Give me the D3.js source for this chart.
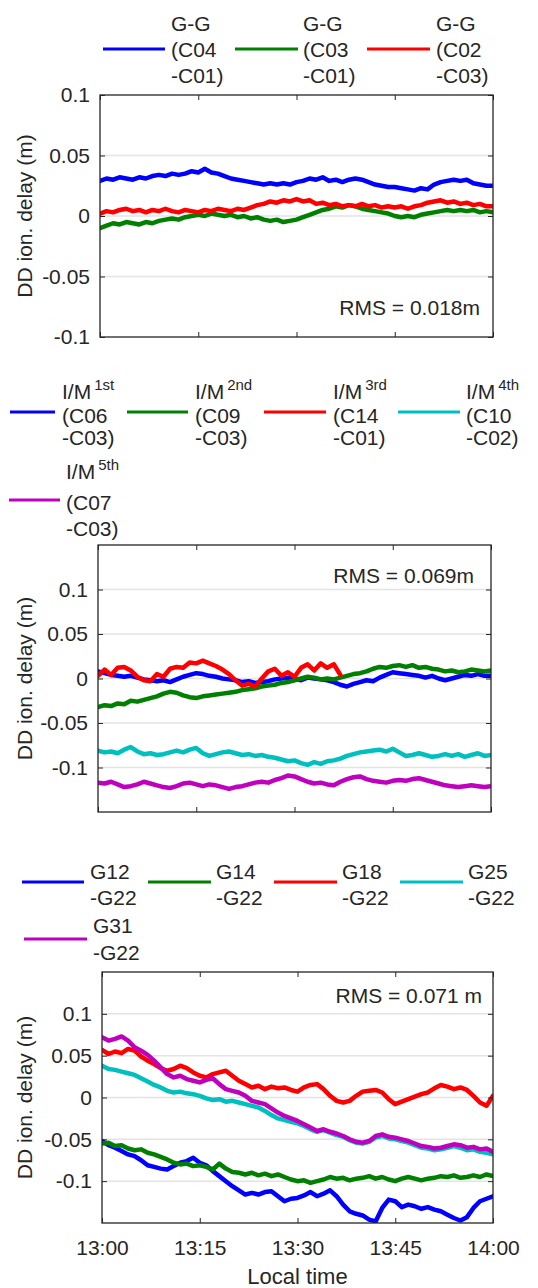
<!DOCTYPE html>
<html>
<head>
<meta charset="utf-8">
<script src="https://cdn.jsdelivr.net/npm/d3@7"></script>
<style>
  html, body { margin: 0; padding: 0; background: #fff; }
  svg { display: block; font-family: "Liberation Sans", Arial, sans-serif; }
</style>
</head>
<body>
<div id="chart"></div>
<script>
// sample times, minutes after 13:00
const minutes = d3.range(0, 61);
const xTicks = [0, 15, 30, 45, 60];
const xTickLabels = ["13:00", "13:15", "13:30", "13:45", "14:00"];
const yTicks = [-0.1, -0.05, 0, 0.05, 0.1];

// panel 1: BDS GEO-GEO
const geoNames = [["G-G", "(C04", "-C01)"], ["G-G", "(C03", "-C01)"], ["G-G", "(C02", "-C03)"]];
const geoRms = "RMS = 0.018m";
const c04c01 = [
  0.029,0.031,0.030,0.032,0.031,0.030,0.032,0.031,0.033,0.034,
  0.033,0.035,0.034,0.035,0.037,0.036,0.039,0.036,0.035,0.033,
  0.031,0.030,0.029,0.028,0.027,0.026,0.027,0.026,0.027,0.026,
  0.028,0.029,0.031,0.030,0.032,0.029,0.030,0.028,0.030,0.031,
  0.030,0.028,0.026,0.025,0.024,0.024,0.023,0.022,0.021,0.023,
  0.022,0.026,0.028,0.029,0.030,0.029,0.030,0.027,0.026,0.025,
  0.025];
const c03c01 = [
  -0.010,-0.008,-0.006,-0.007,-0.005,-0.006,-0.007,-0.005,-0.006,-0.004,
  -0.003,-0.002,-0.003,-0.001,0.000,0.001,0.000,0.002,0.001,0.000,
  0.001,-0.001,0.000,-0.002,-0.001,-0.003,-0.004,-0.003,-0.005,-0.004,
  -0.003,-0.001,0.001,0.003,0.005,0.006,0.008,0.007,0.009,0.008,
  0.006,0.005,0.004,0.003,0.002,0.000,-0.001,0.000,-0.001,0.001,
  0.002,0.003,0.004,0.005,0.004,0.005,0.004,0.005,0.003,0.004,
  0.003];
const c02c03 = [
  0.002,0.004,0.003,0.005,0.006,0.004,0.005,0.003,0.005,0.004,
  0.006,0.004,0.003,0.005,0.004,0.003,0.005,0.004,0.006,0.005,
  0.004,0.006,0.005,0.007,0.009,0.010,0.012,0.011,0.013,0.012,
  0.014,0.012,0.013,0.010,0.011,0.009,0.010,0.008,0.009,0.008,
  0.010,0.008,0.009,0.007,0.008,0.007,0.008,0.006,0.008,0.009,
  0.011,0.012,0.013,0.011,0.012,0.010,0.011,0.009,0.010,0.008,
  0.008];

// panel 2: BDS IGSO/MEO
const imNames = [["I/M^1st", "(C06", "-C03)"], ["I/M^2nd", "(C09", "-C03)"], ["I/M^3rd", "(C14", "-C01)"],
                 ["I/M^4th", "(C10", "-C02)"], ["I/M^5th", "(C07", "-C03)"]];
const imRms = "RMS = 0.069m";
const c06c03 = [
  0.008,0.006,0.004,0.003,0.002,0.003,0.001,-0.001,-0.002,-0.003,
  -0.002,-0.004,-0.001,0.002,0.004,0.006,0.005,0.003,0.002,0.000,
  -0.001,-0.002,-0.004,-0.003,-0.005,-0.004,-0.003,-0.001,0.000,0.001,
  0.000,-0.002,0.001,0.000,-0.001,-0.002,-0.004,-0.007,-0.009,-0.006,
  -0.004,-0.002,-0.003,0.001,0.004,0.007,0.006,0.005,0.004,0.003,
  0.001,0.003,0.000,-0.002,0.000,0.002,0.004,0.003,0.005,0.003,
  0.003];
const c09c03 = [
  -0.032,-0.030,-0.031,-0.028,-0.029,-0.025,-0.026,-0.024,-0.022,-0.020,
  -0.017,-0.015,-0.016,-0.019,-0.021,-0.022,-0.020,-0.019,-0.018,-0.017,
  -0.016,-0.015,-0.013,-0.012,-0.011,-0.009,-0.008,-0.007,-0.005,-0.004,
  -0.002,0.000,0.002,0.001,-0.001,0.000,-0.001,0.001,0.003,0.005,
  0.006,0.008,0.011,0.013,0.012,0.014,0.015,0.013,0.015,0.012,
  0.013,0.011,0.010,0.008,0.009,0.007,0.008,0.010,0.009,0.008,
  0.009];
const c14c01 = [
  0.003,0.010,0.004,0.012,0.013,0.009,0.002,-0.002,-0.003,0.005,
  0.002,0.011,0.013,0.012,0.018,0.017,0.020,0.017,0.014,0.010,
  0.005,-0.002,-0.008,-0.006,-0.009,0.000,0.008,0.011,0.003,0.007,
  0.002,0.012,0.016,0.009,0.017,0.012,0.016,0.004];
const c10c02 = [
  -0.081,-0.083,-0.082,-0.084,-0.080,-0.077,-0.082,-0.085,-0.084,-0.086,
  -0.085,-0.083,-0.081,-0.083,-0.080,-0.078,-0.084,-0.087,-0.085,-0.083,
  -0.082,-0.084,-0.086,-0.085,-0.087,-0.086,-0.088,-0.089,-0.091,-0.093,
  -0.092,-0.095,-0.097,-0.094,-0.096,-0.093,-0.092,-0.090,-0.087,-0.085,
  -0.083,-0.082,-0.081,-0.080,-0.082,-0.079,-0.083,-0.087,-0.086,-0.084,
  -0.086,-0.088,-0.087,-0.085,-0.087,-0.085,-0.088,-0.086,-0.084,-0.087,
  -0.086];
const c07c03 = [
  -0.117,-0.118,-0.116,-0.119,-0.122,-0.121,-0.119,-0.116,-0.118,-0.120,
  -0.122,-0.123,-0.121,-0.118,-0.117,-0.119,-0.121,-0.119,-0.120,-0.122,
  -0.124,-0.122,-0.121,-0.119,-0.117,-0.116,-0.117,-0.114,-0.112,-0.109,
  -0.110,-0.113,-0.116,-0.118,-0.117,-0.119,-0.120,-0.116,-0.113,-0.111,
  -0.110,-0.113,-0.115,-0.116,-0.117,-0.115,-0.114,-0.115,-0.113,-0.112,
  -0.114,-0.116,-0.118,-0.120,-0.121,-0.122,-0.121,-0.120,-0.121,-0.122,
  -0.121];

// panel 3: GPS
const gpsNames = [["G12", "-G22"], ["G14", "-G22"], ["G18", "-G22"], ["G25", "-G22"], ["G31", "-G22"]];
const gpsRms = "RMS = 0.071 m";
const g12g22 = [
  -0.052,-0.057,-0.060,-0.064,-0.068,-0.070,-0.075,-0.081,-0.083,-0.085,
  -0.086,-0.082,-0.078,-0.076,-0.072,-0.078,-0.081,-0.088,-0.094,-0.100,
  -0.106,-0.111,-0.116,-0.114,-0.116,-0.113,-0.112,-0.118,-0.124,-0.121,
  -0.120,-0.117,-0.113,-0.118,-0.115,-0.111,-0.118,-0.128,-0.136,-0.139,
  -0.141,-0.146,-0.148,-0.132,-0.122,-0.124,-0.131,-0.128,-0.130,-0.133,
  -0.131,-0.134,-0.136,-0.140,-0.144,-0.147,-0.143,-0.132,-0.124,-0.121,
  -0.118];
const g14g22 = [
  -0.055,-0.054,-0.058,-0.057,-0.061,-0.063,-0.062,-0.066,-0.068,-0.071,
  -0.074,-0.078,-0.080,-0.079,-0.082,-0.081,-0.083,-0.086,-0.079,-0.085,
  -0.089,-0.090,-0.092,-0.090,-0.093,-0.091,-0.094,-0.092,-0.095,-0.098,
  -0.100,-0.099,-0.102,-0.100,-0.098,-0.095,-0.097,-0.096,-0.099,-0.097,
  -0.096,-0.094,-0.097,-0.095,-0.098,-0.100,-0.097,-0.095,-0.097,-0.099,
  -0.097,-0.096,-0.094,-0.095,-0.093,-0.096,-0.095,-0.093,-0.095,-0.092,
  -0.094];
const g18g22 = [
  0.057,0.052,0.055,0.053,0.058,0.056,0.049,0.044,0.040,0.035,
  0.032,0.034,0.038,0.035,0.030,0.026,0.024,0.028,0.030,0.032,
  0.026,0.020,0.016,0.012,0.014,0.010,0.013,0.011,0.012,0.009,
  0.007,0.012,0.015,0.016,0.010,0.002,-0.004,-0.006,-0.004,0.002,
  0.007,0.008,0.009,0.006,-0.002,-0.008,-0.005,-0.002,0.001,0.004,
  0.006,0.011,0.015,0.013,0.010,0.012,0.009,0.002,-0.006,-0.010,
  0.002];
const g25g22 = [
  0.038,0.034,0.033,0.031,0.029,0.027,0.023,0.019,0.015,0.012,
  0.008,0.006,0.007,0.005,0.004,0.002,-0.001,-0.003,-0.002,-0.005,
  -0.004,-0.006,-0.008,-0.010,-0.012,-0.016,-0.021,-0.025,-0.027,-0.029,
  -0.031,-0.034,-0.038,-0.041,-0.039,-0.042,-0.045,-0.047,-0.051,-0.054,
  -0.055,-0.053,-0.048,-0.046,-0.049,-0.050,-0.052,-0.054,-0.057,-0.060,
  -0.061,-0.063,-0.062,-0.060,-0.058,-0.060,-0.063,-0.062,-0.065,-0.066,
  -0.068];
const g31g22 = [
  0.072,0.068,0.070,0.073,0.068,0.060,0.056,0.051,0.044,0.036,
  0.028,0.024,0.026,0.022,0.020,0.018,0.021,0.023,0.016,0.010,
  0.008,0.006,0.002,-0.004,-0.006,-0.008,-0.013,-0.018,-0.022,-0.025,
  -0.028,-0.032,-0.036,-0.040,-0.038,-0.041,-0.043,-0.046,-0.050,-0.053,
  -0.054,-0.052,-0.046,-0.044,-0.047,-0.048,-0.050,-0.052,-0.055,-0.058,
  -0.059,-0.061,-0.060,-0.058,-0.056,-0.057,-0.060,-0.059,-0.062,-0.061,
  -0.065];

const colors = ["#0000ff", "#008000", "#ff0000", "#00bfbf", "#bf00bf"];
const ink = "#262626";

const width = 538, height = 1288;
const svg = d3.select("#chart").append("svg")
    .attr("width", width)
    .attr("height", height);

const panels = [
    {
        id: "p1", left: 100, right: 493, top: 95, bottom: 337, yDomain: [-0.1, 0.1],
        series: [c04c01, c03c01, c02c03], names: geoNames,
        rms: geoRms, rmsX: 480, rmsY: 315, xLabels: false,
        legend: [
            { x1: 103, x2: 165, y: 49, tx: 171, base: [31, 57, 83] },
            { x1: 235, x2: 298, y: 49, tx: 303, base: [31, 57, 83] },
            { x1: 367, x2: 430, y: 49, tx: 436, base: [31, 57, 83] }
        ]
    },
    {
        id: "p2", left: 98, right: 491, top: 545, bottom: 812, yDomain: [-0.15, 0.15],
        series: [c06c03, c09c03, c14c01, c10c02, c07c03], names: imNames,
        rms: imRms, rmsX: 474, rmsY: 583, xLabels: false,
        legend: [
            { x1: 10, x2: 55, y: 412, tx: 62, base: [399, 423, 445] },
            { x1: 127, x2: 188, y: 412, tx: 195, base: [399, 423, 445] },
            { x1: 264, x2: 326, y: 412, tx: 333, base: [399, 423, 445] },
            { x1: 398, x2: 460, y: 412, tx: 466, base: [399, 423, 445] },
            { x1: 9, x2: 60, y: 500, tx: 66, base: [479, 510, 536] }
        ]
    },
    {
        id: "p3", left: 102, right: 493, top: 972, bottom: 1223, yDomain: [-0.15, 0.15],
        series: [g12g22, g14g22, g18g22, g25g22, g31g22], names: gpsNames,
        rms: gpsRms, rmsX: 482, rmsY: 1003, xLabels: true,
        legend: [
            { x1: 22, x2: 84, y: 882, tx: 90, base: [879, 905] },
            { x1: 148, x2: 211, y: 882, tx: 216, base: [879, 905] },
            { x1: 274, x2: 337, y: 882, tx: 342, base: [879, 905] },
            { x1: 400, x2: 463, y: 882, tx: 468, base: [879, 905] },
            { x1: 24, x2: 87, y: 939, tx: 93, base: [933, 960] }
        ]
    }
];

function styleAxis(g, fontSize) {
    g.select(".domain").remove();
    g.selectAll(".tick line").attr("stroke", ink).attr("stroke-width", 1);
    g.selectAll(".tick text").attr("fill", ink).attr("font-size", fontSize).attr("font-family", null);
}

function drawPanel(p) {
    const x = d3.scaleLinear().domain([0, 60]).range([p.left, p.right]);
    const y = d3.scaleLinear().domain(p.yDomain).range([p.bottom, p.top]);
    const g = svg.append("g").attr("class", p.id);

    // grid lines inside the box
    g.append("g").selectAll("line")
        .data(yTicks.filter(t => y(t) > p.top + 2 && y(t) < p.bottom - 2))
        .enter().append("line")
        .attr("x1", p.left).attr("x2", p.right)
        .attr("y1", d => y(d)).attr("y2", d => y(d))
        .attr("stroke", "#e3e3e3")
        .attr("stroke-width", 1.5);

    g.append("clipPath").attr("id", "clip-" + p.id)
        .append("rect")
        .attr("x", p.left).attr("y", p.top)
        .attr("width", p.right - p.left).attr("height", p.bottom - p.top);

    const line = d3.line()
        .x((d, i) => x(minutes[i]))
        .y(d => y(d));

    g.append("g").attr("clip-path", `url(#clip-${p.id})`)
        .selectAll("path")
        .data(p.series)
        .enter().append("path")
        .attr("d", d => line(d))
        .attr("fill", "none")
        .attr("stroke", (d, i) => colors[i])
        .attr("stroke-width", 4.5)
        .attr("stroke-linejoin", "round")
        .attr("stroke-linecap", "round");

    // axes with inward ticks
    const yFmt = d => String(d);
    g.append("g")
        .attr("transform", `translate(${p.left},0)`)
        .call(d3.axisLeft(y).tickValues(yTicks).tickSizeInner(-5).tickSizeOuter(0).tickPadding(10).tickFormat(yFmt))
        .call(a => styleAxis(a, 21));
    g.append("g")
        .attr("transform", `translate(${p.right},0)`)
        .call(d3.axisRight(y).tickValues(yTicks).tickSizeInner(-5).tickSizeOuter(0).tickFormat(""))
        .call(a => styleAxis(a, 21));
    g.append("g")
        .attr("transform", `translate(0,${p.top})`)
        .call(d3.axisTop(x).tickValues(xTicks).tickSizeInner(-5).tickSizeOuter(0).tickFormat(""))
        .call(a => styleAxis(a, 21));
    g.append("g")
        .attr("transform", `translate(0,${p.bottom})`)
        .call(d3.axisBottom(x).tickValues(xTicks).tickSizeInner(-5).tickSizeOuter(0).tickPadding(17)
            .tickFormat((d, i) => p.xLabels ? xTickLabels[i] : ""))
        .call(a => styleAxis(a, 21));

    g.append("rect")
        .attr("x", p.left).attr("y", p.top)
        .attr("width", p.right - p.left).attr("height", p.bottom - p.top)
        .attr("fill", "none")
        .attr("stroke", ink)
        .attr("stroke-width", 1.3);

    g.append("text")
        .attr("transform", `translate(25,${(p.top + p.bottom) / 2}) rotate(-90)`)
        .attr("text-anchor", "middle")
        .attr("dy", "0.35em")
        .attr("font-size", 21)
        .attr("fill", ink)
        .text("DD ion. delay (m)");

    g.append("text")
        .attr("x", p.rmsX).attr("y", p.rmsY)
        .attr("text-anchor", "end")
        .attr("font-size", 21)
        .attr("fill", ink)
        .text(p.rms);

    if (p.xLabels) {
        g.append("text")
            .attr("x", (p.left + p.right) / 2).attr("y", 1284)
            .attr("text-anchor", "middle")
            .attr("font-size", 22)
            .attr("fill", ink)
            .text("Local time");
    }

    // legend
    const leg = g.append("g").attr("class", "legend");
    p.legend.forEach((L, i) => {
        leg.append("line")
            .attr("x1", L.x1).attr("x2", L.x2)
            .attr("y1", L.y).attr("y2", L.y)
            .attr("stroke", colors[i])
            .attr("stroke-width", 3);
        p.names[i].forEach((str, j) => {
            const t = leg.append("text")
                .attr("x", L.tx).attr("y", L.base[j])
                .attr("font-size", 21)
                .attr("fill", ink);
            const parts = str.split("^");
            t.append("tspan").text(parts[0]);
            if (parts[1]) {
                t.append("tspan")
                    .attr("dx", 3).attr("dy", -9)
                    .attr("font-size", 15)
                    .text(parts[1]);
            }
        });
    });
}

panels.forEach(drawPanel);
</script>
</body>
</html>
